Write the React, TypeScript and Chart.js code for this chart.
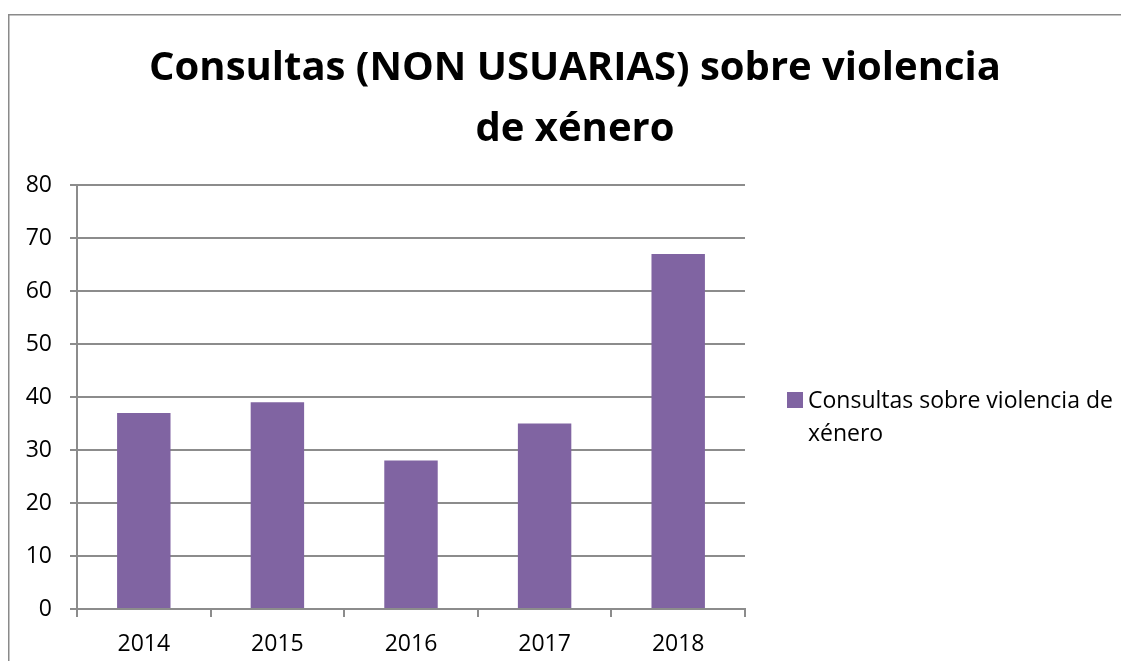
import React, { useEffect, useRef } from "react";
import { Chart, registerables } from "chart.js";

Chart.register(...registerables);

const categories = ["2014", "2015", "2016", "2017", "2018"];
const values = [37, 39, 28, 35, 67];
const seriesLabel = "Consultas sobre violencia de xénero";
const titleLines = ["Consultas (NON USUARIAS) sobre violencia", "de xénero"];
const legendLines = ["Consultas sobre violencia de", "xénero"];
const yMin = 0;
const yMax = 80;
const yStep = 10;

const BAR_COLOR = "#8064A2";
const GRID_COLOR = "#8c8c8c";
const FONT = "'Open Sans', 'DejaVu Sans', sans-serif";

const W = 1121;
const H = 653;

const decorPlugin = {
  id: "decor",
  afterDraw(chart: any) {
    const ctx = chart.ctx;
    ctx.save();
    // outer border
    ctx.strokeStyle = "#8a8a8a";
    ctx.lineWidth = 1.5;
    ctx.strokeRect(0.75, 6.75, 1119.5, 700);
    // title
    ctx.fillStyle = "#000";
    ctx.font = `bold 40px ${FONT}`;
    ctx.textAlign = "center";
    ctx.textBaseline = "alphabetic";
    ctx.fillText(titleLines[0], 567, 72);
    ctx.fillText(titleLines[1], 567, 133);
    // legend
    ctx.fillStyle = BAR_COLOR;
    ctx.fillRect(779, 384, 16, 16);
    ctx.fillStyle = "#000";
    ctx.font = `23px ${FONT}`;
    ctx.textAlign = "left";
    ctx.fillText(legendLines[0], 800, 400);
    ctx.fillText(legendLines[1], 800, 433);
    ctx.restore();
  },
};

export default function App() {
  const ref = useRef<HTMLCanvasElement | null>(null);
  useEffect(() => {
    if (!ref.current) return;
    const chart = new Chart(ref.current, {
      type: "bar",
      data: {
        labels: categories,
        datasets: [
          {
            label: seriesLabel,
            data: values,
            backgroundColor: BAR_COLOR,
            borderWidth: 0,
            categoryPercentage: 1,
            barPercentage: 0.4,
          },
        ],
      },
      options: {
        responsive: false,
        animation: false,
        layout: { padding: { top: 177, left: 0, right: W - 737, bottom: 0 } },
        plugins: {
          legend: { display: false },
          title: { display: false },
          tooltip: { enabled: false },
        },
        scales: {
          x: {
            grid: {
              display: true,
              offset: true,
              drawOnChartArea: false,
              drawTicks: true,
              tickLength: 8,
              color: GRID_COLOR,
              lineWidth: 2,
            },
            border: { display: true, color: GRID_COLOR, width: 2 },
            ticks: { color: "#000", font: { family: FONT, size: 23 }, padding: 14 },
            afterFit: (s: any) => {
              s.height = H - 601;
            },
          },
          y: {
            min: yMin,
            max: yMax,
            ticks: {
              stepSize: yStep,
              color: "#000",
              font: { family: FONT, size: 23 },
              padding: 18,
            },
            grid: { color: GRID_COLOR, tickLength: 7, drawTicks: true, lineWidth: 2 },
            border: { display: true, color: GRID_COLOR, width: 2 },
            afterFit: (s: any) => {
              s.width = 69;
            },
          },
        },
      },
      plugins: [decorPlugin],
    });
    return () => chart.destroy();
  }, []);
  return (
    <div style={{ width: W, height: H }}>
      <canvas ref={ref} width={W} height={H} style={{ display: "block" }} />
    </div>
  );
}
